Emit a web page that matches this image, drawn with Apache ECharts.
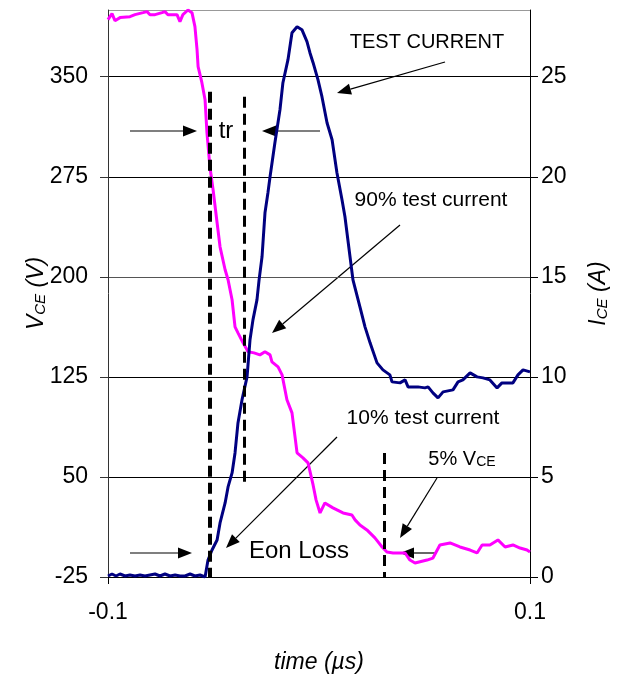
<!DOCTYPE html>
<html>
<head>
<meta charset="utf-8">
<script src="https://cdn.jsdelivr.net/npm/echarts@6/dist/echarts.min.js"></script>
<style>
  html, body { margin: 0; padding: 0; background: #fff; }
  #chart { width: 628px; height: 679px; }
</style>
</head>
<body>
<div id="chart"></div>
<script>
// time in µs, V_CE in V
const timeV = [-0.1, -0.0981, -0.0967, -0.0943, -0.0896, -0.0872, -0.0834, -0.0815, -0.0801, -0.0777,
  -0.0744, -0.0730, -0.0716, -0.0673, -0.0659, -0.0645, -0.0621, -0.0602, -0.0588, -0.0578,
  -0.0573, -0.0555, -0.0540, -0.0531, -0.0517, -0.0502, -0.0483, -0.0469, -0.0445, -0.0431,
  -0.0412, -0.0398, -0.0384, -0.0360, -0.0336, -0.0308, -0.0280, -0.0256, -0.0232, -0.0223,
  -0.0194, -0.0175, -0.0152, -0.0128, -0.0104, -0.0076, -0.0052, -0.0028, -0.0014, 0.0005,
  0.0028, 0.0066, 0.0114, 0.0156, 0.0171, 0.0194, 0.0227, 0.0265, 0.0299, 0.0322,
  0.0351, 0.0384, 0.0408, 0.0431, 0.0455, 0.0512, 0.0540, 0.0573, 0.0621, 0.0668,
  0.0716, 0.0749, 0.0773, 0.0810, 0.0848, 0.0882, 0.0919, 0.0953, 0.0986, 0.1]
const vce = [392.8, 397.3, 392, 394.3, 395, 396.5, 398, 398.8, 396.5, 396.5,
  398, 398.8, 396.5, 396.5, 391.3, 396.5, 400, 398, 387.5, 370.3,
  357.5, 345.5, 332.8, 308, 282.5, 265.3, 240.5, 222.5, 205.3, 197.8,
  182.8, 162.5, 158, 150.5, 143.8, 143, 141.5, 143.8, 141.5, 136.3,
  132.5, 126.5, 107.8, 98, 68, 64.3, 60.5, 44, 32.8, 23,
  30.5, 26.8, 23, 21.5, 17.8, 14, 10.3, 4.3, -2.5, -6.3,
  -7, -7, -7, -12.3, -14.5, -12.3, -10.8, -1, 0.5, -2.5,
  -4.8, -7, -1, -1, 2.8, -2.5, -1, -3.3, -4.8, -6.3]

// time in µs, I_CE in A
const timeI = [-0.1, -0.0981, -0.0962, -0.0943, -0.0919, -0.0896, -0.0872, -0.0848, -0.0825, -0.0801,
  -0.0777, -0.0754, -0.0730, -0.0706, -0.0682, -0.0659, -0.0635, -0.0611, -0.0588, -0.0564,
  -0.0540, -0.0526, -0.0507, -0.0483, -0.0469, -0.0445, -0.0431, -0.0412, -0.0398, -0.0384,
  -0.0365, -0.0341, -0.0327, -0.0313, -0.0294, -0.0284, -0.0270, -0.0256, -0.0242, -0.0232,
  -0.0209, -0.0185, -0.0171, -0.0147, -0.0128, -0.0104, -0.0081, -0.0057, -0.0043, -0.0028,
  -0.0005, 0.0014, 0.0038, 0.0062, 0.0085, 0.0109, 0.0123, 0.0147, 0.0161, 0.0194,
  0.0218, 0.0242, 0.0275, 0.0303, 0.0336, 0.0346, 0.0384, 0.0408, 0.0422, 0.0469,
  0.0502, 0.0517, 0.0540, 0.0564, 0.0588, 0.0635, 0.0659, 0.0682, 0.0716, 0.0749,
  0.0777, 0.0810, 0.0844, 0.0867, 0.0919, 0.0943, 0.0967, 0.1]
const ice = [0.05, 0.15, 0.05, 0.15, 0.05, 0.1, 0.05, 0.1, 0.05, 0.1,
  0.15, 0.05, 0.15, 0.05, 0.1, 0.05, 0.05, 0.15, 0.05, 0.1,
  0, 0.85, 1.35, 1.85, 2.7, 3.7, 4.5, 5.2, 6.2, 7.7,
  8.85, 10, 11.85, 12.85, 13.85, 14.85, 16, 18.2, 19.2, 20,
  21.7, 23.35, 24.7, 25.85, 27.2, 27.5, 27.35, 26.75, 26.2, 25.7,
  24.85, 24, 22.7, 21.85, 20.2, 18.85, 18, 16, 14.85, 13.5,
  12.5, 11.7, 10.7, 10.35, 10.1, 9.75, 9.7, 9.85, 9.5, 9.5,
  9.45, 9.5, 9.2, 8.95, 9.25, 9.35, 9.75, 9.85, 10.2, 10,
  9.95, 9.85, 9.45, 9.7, 9.7, 10.1, 10.35, 10.25]

const xTicks = [-0.1, 0.1]
// marker times (µs) and their V_CE spans
const markTimes = [-0.0517, -0.0355, 0.0308]
const markTop = [338.75, 335, 68]
const markBottom = [-25, 42.5, -25]

const FONT = 'Liberation Sans, Arial, sans-serif'

function zip(a, b) {
  return a.map((v, i) => [v, b[i]])
}

function arrow(x1, y1, x2, y2) {
  const a = Math.atan2(y2 - y1, x2 - x1)
  const L = 14, W = 5.5
  const c = Math.cos(a), s = Math.sin(a)
  const bx = x2 - L * c, by = y2 - L * s
  return {
    type: 'group',
    children: [
      { type: 'line', shape: { x1: x1, y1: y1, x2: bx, y2: by }, style: { stroke: '#000', lineWidth: 1.2 } },
      { type: 'polygon', shape: { points: [[x2, y2], [bx - W * s, by + W * c], [bx + W * s, by - W * c]] }, style: { fill: '#000' } }
    ]
  }
}

function label(text, x, y, size) {
  return {
    type: 'text', x: x, y: y,
    style: { text: text, fill: '#000', font: size + 'px ' + FONT, align: 'center', verticalAlign: 'middle' }
  }
}

const markLines = markTimes.map((t, i) => [
  { coord: [t, markTop[i]], lineStyle: { width: i === 0 ? 4 : 3 } },
  { coord: [t, markBottom[i]] }
])

const nameRich = {
  a: { fontFamily: FONT, fontSize: 23, fontStyle: 'italic', color: '#000', lineHeight: 26, verticalAlign: 'bottom' },
  s: { fontFamily: FONT, fontSize: 15, fontStyle: 'italic', color: '#000', lineHeight: 12, verticalAlign: 'bottom' }
}

const option = {
  animation: false,
  grid: { left: 108, right: 98, top: 10, bottom: 102 },
  xAxis: {
    type: 'value',
    min: -0.1,
    max: 0.1,
    interval: 0.1,
    name: 'time (µs)',
    nameLocation: 'middle',
    nameGap: 74,
    nameTextStyle: { fontFamily: FONT, fontSize: 23, fontStyle: 'italic', color: '#000' },
    axisLine: { onZero: false, lineStyle: { color: '#000', width: 1 } },
    axisTick: { show: true, length: 7, customValues: xTicks, lineStyle: { color: '#000' } },
    axisLabel: { customValues: xTicks, margin: 24, fontFamily: FONT, fontSize: 23, color: '#000' },
    splitLine: { show: false }
  },
  yAxis: [
    {
      type: 'value',
      min: -25,
      max: 400,
      interval: 75,
      name: '{a|V}{s|CE}{a| (V)}',
      nameLocation: 'middle',
      nameRotate: 90,
      nameGap: 60,
      nameMoveOverlap: false,
      nameTextStyle: { rich: nameRich },
      axisLine: { show: true, onZero: false, lineStyle: { color: '#333', width: 1 } },
      axisTick: { show: true, length: 8, lineStyle: { color: '#333' } },
      axisLabel: { margin: 20, showMaxLabel: false, fontFamily: FONT, fontSize: 23, color: '#000' },
      splitLine: { show: true, lineStyle: { color: ['#000', '#000', '#000', '#555', '#000', '#000', '#999'], width: 1 } }
    },
    {
      type: 'value',
      min: 0,
      max: 425 / 15,
      interval: 5,
      name: '{a|I}{s|CE}{a| (A)}',
      nameLocation: 'middle',
      nameRotate: 90,
      nameGap: 54,
      nameTextStyle: { rich: nameRich },
      axisLine: { show: true, onZero: false, lineStyle: { color: '#000', width: 1 } },
      axisTick: { show: true, length: 8, lineStyle: { color: '#000' } },
      axisLabel: { margin: 11, showMaxLabel: false, fontFamily: FONT, fontSize: 23, color: '#000' },
      splitLine: { show: false }
    }
  ],
  series: [
    {
      name: 'VCE',
      type: 'line',
      yAxisIndex: 0,
      showSymbol: false,
      lineStyle: { color: '#FF00FF', width: 3 },
      itemStyle: { color: '#FF00FF' },
      data: zip(timeV, vce),
      markLine: {
        silent: true,
        symbol: ['none', 'none'],
        label: { show: false },
        lineStyle: { color: '#000', type: [11, 6], width: 3 },
        data: markLines
      },
      z: 2
    },
    {
      name: 'ICE',
      type: 'line',
      yAxisIndex: 1,
      showSymbol: false,
      lineStyle: { color: '#000080', width: 3 },
      itemStyle: { color: '#000080' },
      data: zip(timeI, ice),
      z: 3
    }
  ],
  graphic: [
    label('TEST CURRENT', 427, 42, 20),
    label('tr', 226, 131, 24),
    label('90% test current', 431, 200, 21),
    label('10% test current', 423, 418, 21),
    label('Eon Loss', 299, 551, 24),
    {
      type: 'text', x: 462, y: 458,
      style: {
        text: '{a|5% V}{s|CE}',
        align: 'center', verticalAlign: 'middle',
        rich: {
          a: { font: '20px ' + FONT, fill: '#000', lineHeight: 22, verticalAlign: 'bottom' },
          s: { font: '14px ' + FONT, fill: '#000', lineHeight: 14, verticalAlign: 'bottom' }
        }
      }
    },
    arrow(130, 131, 197, 131),
    arrow(320, 131, 262, 131),
    arrow(445, 62, 337, 93),
    arrow(400, 225, 272, 333),
    arrow(337, 437, 226, 548),
    arrow(130, 553, 192, 553),
    arrow(437, 478, 400, 538),
    arrow(437, 553, 400, 553)
  ]
}

const myChart = echarts.init(document.getElementById('chart'))
myChart.setOption(option)
</script>
</body>
</html>
